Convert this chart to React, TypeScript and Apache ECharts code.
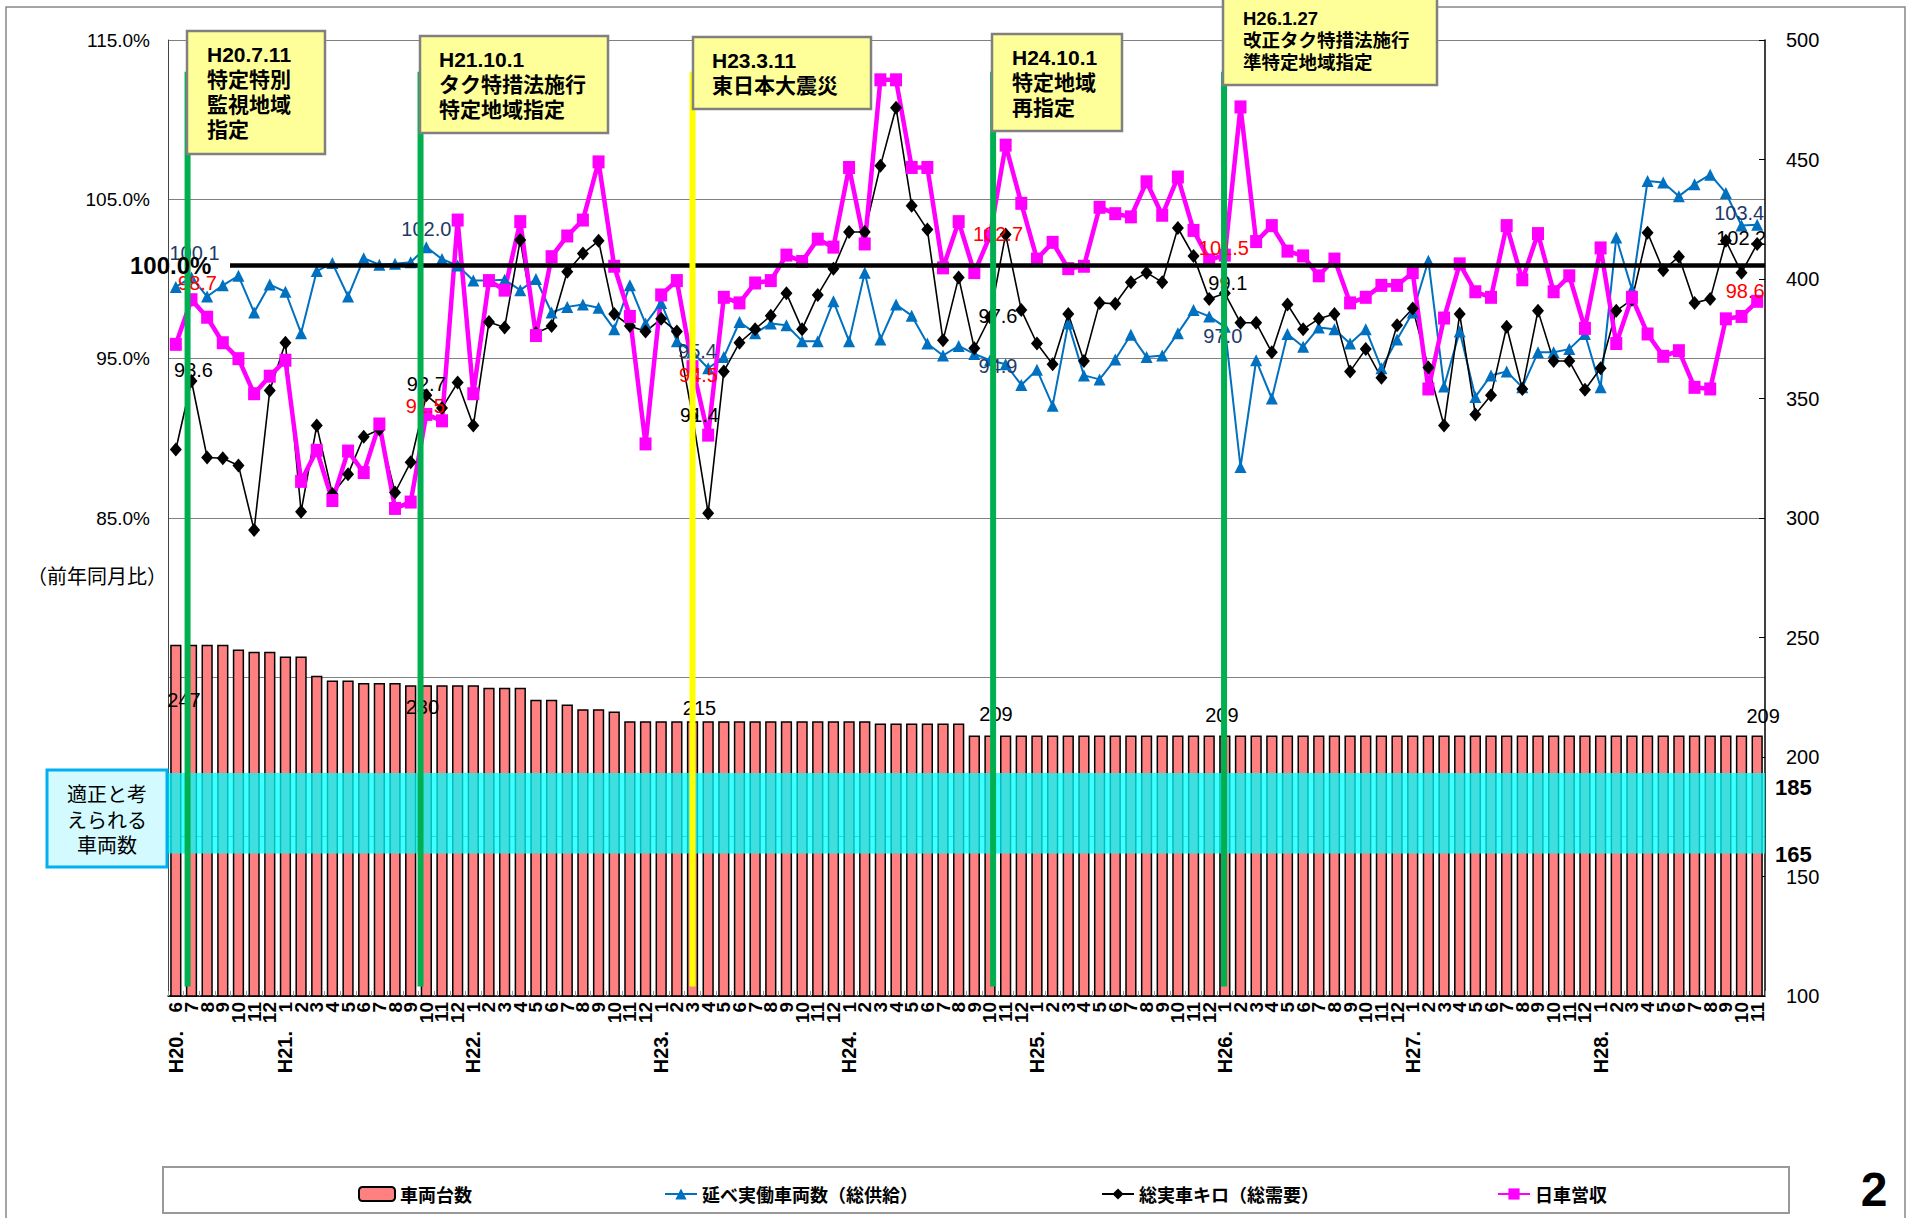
import React, { useEffect, useRef } from 'react';
import * as echarts from 'echarts';

// ---------- categories ----------
const YEAR_LABELS = ['H20', 'H21', 'H22', 'H23', 'H24', 'H25', 'H26', 'H27', 'H28'];
const YEAR_FIRST_MONTH = [6, 1, 1, 1, 1, 1, 1, 1, 1];
const YEAR_LAST_MONTH = [12, 12, 12, 12, 12, 12, 12, 12, 11];
const CATEGORIES: string[] = [];
YEAR_LABELS.forEach((y, i) => {
  for (let m = YEAR_FIRST_MONTH[i]; m <= YEAR_LAST_MONTH[i]; m++) CATEGORIES.push(`${y}.${m}`);
});

// ---------- series values ----------
const VEHICLES = [
  247, 247, 247, 247, 245, 244, 244,
  242, 242, 234, 232, 232, 231, 231, 231, 230, 230, 230, 230,
  230, 229, 229, 229, 224, 224, 222, 220, 220, 219, 215, 215,
  215, 215, 215, 215, 215, 215, 215, 215, 215, 215, 215, 215,
  215, 215, 214, 214, 214, 214, 214, 214, 209, 209, 209, 209,
  209, 209, 209, 209, 209, 209, 209, 209, 209, 209, 209, 209,
  209, 209, 209, 209, 209, 209, 209, 209, 209, 209, 209, 209,
  209, 209, 209, 209, 209, 209, 209, 209, 209, 209, 209, 209,
  209, 209, 209, 209, 209, 209, 209, 209, 209, 209, 209,
];
const SUPPLY = [
  99.5, 100.1, 98.9, 99.6, 100.2, 97.9, 99.65,
  99.2, 96.6, 100.5, 101.0, 98.9, 101.3, 100.9, 100.95, 101.05, 102.0, 101.25, 100.85,
  99.9, 99.9, 99.95, 99.3, 100.0, 97.9, 98.25, 98.4, 98.2, 96.85, 99.6, 97.2,
  98.5, 96.1, 95.4, 94.4, 95.1, 97.3, 96.6, 97.2, 97.1, 96.1, 96.1, 98.6,
  96.1, 100.4, 96.2, 98.4, 97.7, 95.95, 95.2, 95.8, 95.3, 94.9, 94.65, 93.35,
  94.3, 92.05, 97.2, 93.95, 93.7, 94.95, 96.5, 95.1, 95.2, 96.6, 98.05, 97.65,
  97.0, 88.2, 94.9, 92.5, 96.55, 95.75, 96.95, 96.85, 95.95, 96.85, 94.4, 96.2,
  97.9, 101.15, 93.25, 96.7, 92.6, 93.95, 94.2, 93.2, 95.4, 95.4, 95.6, 96.55,
  93.2, 102.6, 99.35, 106.15, 106.05, 105.2, 105.95, 106.55, 105.4, 103.35, 103.4,
];
const DEMAND = [
  89.3, 93.6, 88.8, 88.75, 88.3, 84.25, 93.0,
  96.0, 85.4, 90.8, 86.5, 87.75, 90.1, 90.55, 86.6, 88.5, 92.7, 91.9, 93.5,
  90.8, 97.3, 96.95, 102.45, 96.6, 97.05, 100.45, 101.6, 102.4, 97.8, 97.05, 96.7,
  97.5, 96.7, 91.4, 85.3, 94.2, 96.0, 96.85, 97.7, 99.1, 96.85, 99.0, 100.65,
  102.95, 102.95, 107.1, 110.75, 104.6, 103.1, 96.15, 100.1, 95.65, 97.6, 102.8, 98.05,
  95.95, 94.65, 97.8, 94.85, 98.5, 98.45, 99.8, 100.4, 99.8, 103.2, 101.45, 98.75,
  99.1, 97.25, 97.25, 95.4, 98.4, 96.85, 97.5, 97.8, 94.2, 95.6, 93.8, 97.1,
  98.15, 94.45, 90.8, 97.8, 91.5, 92.7, 97.0, 93.1, 98.0, 94.85, 94.85, 93.05,
  94.4, 98.0, 98.7, 102.9, 100.55, 101.4, 98.5, 98.75, 102.4, 100.4, 102.2,
];
const REVENUE = [
  95.9, 98.7, 97.6, 96.0, 95.0, 92.8, 93.9,
  94.9, 87.3, 89.25, 86.1, 89.2, 87.85, 90.9, 85.6, 86.0, 91.5, 91.1, 103.7,
  92.8, 99.9, 99.3, 103.6, 96.45, 101.4, 102.7, 103.7, 107.35, 100.8, 97.65, 89.65,
  99.0, 99.9, 94.5, 90.2, 98.85, 98.5, 99.75, 99.9, 101.5, 101.1, 102.5, 102.0,
  107.0, 102.2, 112.5, 112.5, 107.0, 107.0, 100.7, 103.6, 100.4, 102.7, 108.4, 104.75,
  101.25, 102.3, 100.65, 100.8, 104.5, 104.1, 103.9, 106.1, 104.0, 106.4, 103.05, 101.2,
  101.5, 110.8, 102.35, 103.35, 101.75, 101.45, 100.2, 101.25, 98.5, 98.85, 99.6, 99.6,
  100.4, 93.1, 97.55, 100.95, 99.2, 98.85, 103.35, 99.95, 102.85, 99.2, 100.2, 96.9,
  101.95, 95.95, 98.85, 96.55, 95.15, 95.5, 93.2, 93.1, 97.5, 97.65, 98.6,
];

const SERIES_NAMES = ['車両台数', '延べ実働車両数（総供給）', '総実車キロ（総需要）', '日車営収'];

// ---------- reference marks ----------
const EVENT_POS = [1.25, 16.13, 33.5, 52.7, 67.45]; // in month units along the axis
const EVENT_COLORS = ['#00B050', '#00B050', '#FFFF00', '#00B050', '#00B050'];
const EVENT_LINE_RANGE = [55.6, 113];
const REF_LEVEL = 100.85;
const REF_START = 3.96;
const BAND_RANGE = [159.6, 193.3];
const BAND_LABELS = [{ text: '185', at: 187.4 }, { text: '165', at: 159.3 }];

// ---------- fonts ----------
const FONT_NARROW = "'Liberation Sans Narrow', 'Arial Narrow', 'Liberation Sans', Arial, sans-serif";
const FONT_SANS = "'Liberation Sans', Arial, sans-serif";
const FONT_JP = "'Noto Sans CJK JP', sans-serif";
const FONT_BOX = "'Liberation Sans', 'Noto Sans CJK JP', sans-serif";

const BLUE_LABELS: Record<number, number[]> = { 1: [3, -24], 16: [0, -18], 33: [5, -1], 52: [8, 6], 67: [-2, 9], 101: [-18, -12] };
const BLACK_LABELS: Record<number, number[]> = { 1: [2, -11], 16: [0, -11], 33: [7, -1], 52: [8, -1], 67: [3, -10], 101: [-16, -6] };
const RED_LABELS: Record<number, number[]> = { 1: [6, -17], 16: [-1, -8], 33: [6, 8], 52: [8, -2], 67: [-1, -7], 101: [-12, -10] };
const BAR_LABELS: Record<number, number[]> = { 1: [-7.5, 70], 16: [-4, 37], 33: [7, 1.5], 52: [6, -6], 67: [-3, -5], 101: [6, -4] };

function lineData(vals: number[], labels: Record<number, number[]>, color: string) {
  return vals.map((v, i) => {
    const off = labels[i];
    if (!off) return v;
    return {
      value: v,
      label: {
        show: true, position: 'inside', offset: off, formatter: v.toFixed(1),
        color, fontSize: 20, fontFamily: FONT_SANS,
      },
    };
  });
}

function buildOption() {
  const barData = VEHICLES.map((v, i) => {
    const off = BAR_LABELS[i];
    if (!off) return v;
    return {
      value: v,
      label: { show: true, position: 'top', distance: 5, offset: off, formatter: String(v), color: '#000', fontSize: 20, fontFamily: FONT_NARROW },
    };
  });

  const boxes = [
    { x: 187, y: 31, w: 138, h: 123, tx: 207, ty: 41.5, lh: 25, fs: 21, text: 'H20.7.11\n特定特別\n監視地域\n指定' },
    { x: 420, y: 36, w: 188, h: 97, tx: 439, ty: 46.5, lh: 25, fs: 21, text: 'H21.10.1\nタク特措法施行\n特定地域指定' },
    { x: 693, y: 37, w: 178, h: 72, tx: 712, ty: 47.5, lh: 25, fs: 21, text: 'H23.3.11\n東日本大震災' },
    { x: 992, y: 34, w: 130, h: 97, tx: 1012, ty: 44.5, lh: 25, fs: 21, text: 'H24.10.1\n特定地域\n再指定' },
    { x: 1223, y: -6, w: 214, h: 91, tx: 1243, ty: 7, lh: 22, fs: 18.5, text: 'H26.1.27\n改正タク特措法施行\n準特定地域指定' },
  ];

  const graphics: any[] = [
    { type: 'rect', z: 0, shape: { x: 6, y: 7, width: 1899, height: 1240 }, style: { fill: 'none', stroke: '#888', lineWidth: 1.5 } },
    { type: 'rect', z: 0, shape: { x: 163, y: 1167, width: 1626, height: 46 }, style: { fill: 'none', stroke: '#999', lineWidth: 2 } },
    { type: 'text', z: 100, style: { x: 1874, y: 1213, text: '2', fill: '#000', fontSize: 48, fontWeight: 'bold', fontFamily: FONT_SANS, align: 'center', verticalAlign: 'bottom' } },
    { type: 'text', z: 100, style: { x: 27, y: 575, text: '（前年同月比）', fill: '#000', fontSize: 20, fontFamily: FONT_JP, align: 'left', verticalAlign: 'middle' } },
    { type: 'text', z: 100, style: { x: 130, y: 265, text: '100.0%', fill: '#000', fontSize: 24, fontWeight: 'bold', fontFamily: FONT_SANS, align: 'left', verticalAlign: 'middle' } },
    { type: 'rect', z: 100, shape: { x: 47, y: 770, width: 120, height: 97 }, style: { fill: '#D2FAFF', stroke: '#00B0F0', lineWidth: 3 } },
    { type: 'text', z: 101, style: { x: 107, y: 819, text: '適正と考\nえられる\n車両数', fill: '#000', fontSize: 20, lineHeight: 25.5, fontFamily: FONT_JP, align: 'center', verticalAlign: 'middle' } },
  ];
  boxes.forEach((b) => {
    graphics.push({ type: 'rect', z: 100, shape: { x: b.x, y: b.y, width: b.w, height: b.h }, style: { fill: '#FFFF99', stroke: '#808080', lineWidth: 2.5 } });
    graphics.push({ type: 'text', z: 101, style: { x: b.tx, y: b.ty, text: b.text, fill: '#000', fontSize: b.fs, lineHeight: b.lh, fontWeight: 'bold', fontFamily: FONT_BOX, align: 'left', verticalAlign: 'top' } });
  });

  const legendText = { fontSize: 18, fontWeight: 'bold', fontFamily: FONT_JP, color: '#000' };
  const legendLefts = [353, 659, 1096, 1492];
  const legends = SERIES_NAMES.map((n, i) => ({
    data: [n], left: legendLefts[i], top: 1180, itemWidth: i === 0 ? 36 : 32, itemHeight: 14, itemGap: 4,
    textStyle: legendText, selectedMode: false,
  }));

  return {
    animation: false,
    backgroundColor: '#fff',
    grid: { left: 168, right: 156, top: 40, bottom: 222, containLabel: false },
    legend: legends,
    graphic: graphics,
    xAxis: [
      {
        type: 'category', data: CATEGORIES, boundaryGap: true, position: 'bottom',
        axisLine: { show: true, lineStyle: { color: '#000', width: 1.5 } },
        axisTick: { show: true, inside: true, length: 5, lineStyle: { color: '#999' } },
        axisLabel: {
          interval: 0, rotate: 90, margin: 6, color: '#000', fontSize: 19, fontWeight: 'bold', fontFamily: FONT_SANS,
          formatter: (v: string) => v.split('.')[1],
        },
        splitLine: { show: false },
      },
      { type: 'value', min: 0, max: CATEGORIES.length, show: false },
      {
        type: 'category', data: CATEGORIES, boundaryGap: true, position: 'bottom',
        axisLine: { show: false }, axisTick: { show: false }, splitLine: { show: false },
        axisLabel: {
          interval: 0, rotate: 90, margin: 35, color: '#000', fontSize: 20, fontWeight: 'bold', fontFamily: FONT_SANS,
          formatter: (v: string, idx: number) => (idx === 0 || v.endsWith('.1') ? v.split('.')[0] + '.' : ''),
        },
      },
    ],
    yAxis: [
      {
        type: 'value', min: 55, max: 115, interval: 10, position: 'left',
        axisLine: { show: true, lineStyle: { color: '#444', width: 1 } },
        axisTick: { show: false },
        axisLabel: {
          margin: 18, color: '#000', fontSize: 19, fontFamily: FONT_NARROW,
          formatter: (v: number) => (v >= 85 ? v.toFixed(1) + '%' : ''),
        },
        splitLine: { show: true, lineStyle: { color: '#808080', width: 1 } },
      },
      {
        type: 'value', min: 100, max: 500, interval: 50, position: 'right',
        axisLine: { show: true, lineStyle: { color: '#000', width: 1.5 } },
        axisTick: { show: true, inside: true, length: 6, lineStyle: { color: '#000' } },
        axisLabel: { margin: 21, color: '#000', fontSize: 20, fontFamily: FONT_NARROW },
        splitLine: { show: false },
      },
    ],
    series: [
      {
        name: SERIES_NAMES[0], type: 'bar', xAxisIndex: 0, yAxisIndex: 1, data: barData, barWidth: '72%', z: 1,
        itemStyle: { color: '#FF8080', borderColor: '#000', borderWidth: 1.5 },
      },
      {
        type: 'custom', xAxisIndex: 1, yAxisIndex: 1, z: 2, silent: true, clip: false,
        data: [[0, BAND_RANGE[0]]],
        renderItem: (_p: any, api: any) => {
          const a = api.coord([0, BAND_RANGE[1]]);
          const b = api.coord([CATEGORIES.length, BAND_RANGE[0]]);
          const children: any[] = [
            { type: 'rect', shape: { x: a[0], y: a[1], width: b[0] - a[0], height: b[1] - a[1] }, style: { fill: 'rgba(0,255,255,0.75)' } },
          ];
          BAND_LABELS.forEach((l) => {
            const p = api.coord([CATEGORIES.length, l.at]);
            children.push({ type: 'text', style: { x: p[0] + 10, y: p[1], text: l.text, fill: '#000', fontSize: 22, fontWeight: 'bold', fontFamily: FONT_SANS, align: 'left', verticalAlign: 'middle' } });
          });
          return { type: 'group', children };
        },
      },
      {
        name: SERIES_NAMES[1], type: 'line', xAxisIndex: 0, yAxisIndex: 0, z: 3,
        data: lineData(SUPPLY, BLUE_LABELS, '#1F3A68'),
        symbol: 'triangle', symbolSize: [12, 12],
        lineStyle: { color: '#0070C0', width: 2 }, itemStyle: { color: '#0070C0' },
      },
      {
        name: SERIES_NAMES[2], type: 'line', xAxisIndex: 0, yAxisIndex: 0, z: 3,
        data: lineData(DEMAND, BLACK_LABELS, '#000'),
        symbol: 'diamond', symbolSize: [12, 14],
        lineStyle: { color: '#000', width: 1.6 }, itemStyle: { color: '#000' },
      },
      {
        name: SERIES_NAMES[3], type: 'line', xAxisIndex: 0, yAxisIndex: 0, z: 3,
        data: lineData(REVENUE, RED_LABELS, '#FF0000'),
        symbol: 'rect', symbolSize: [12, 13],
        lineStyle: { color: '#FF00FF', width: 4.5 }, itemStyle: { color: '#FF00FF' },
      },
      {
        type: 'custom', xAxisIndex: 1, yAxisIndex: 0, z: 4, silent: true, clip: false,
        data: [[REF_START, REF_LEVEL]],
        renderItem: (_p: any, api: any) => {
          const a = api.coord([api.value(0), api.value(1)]);
          const b = api.coord([CATEGORIES.length, api.value(1)]);
          return { type: 'line', shape: { x1: a[0], y1: a[1], x2: b[0], y2: b[1] }, style: { stroke: '#000', lineWidth: 4.5 } };
        },
      },
      {
        type: 'custom', xAxisIndex: 1, yAxisIndex: 0, z: 5, silent: true, clip: false,
        data: EVENT_POS.map((p) => [p, EVENT_LINE_RANGE[0]]),
        renderItem: (params: any, api: any) => {
          const x = api.value(0);
          const a = api.coord([x, EVENT_LINE_RANGE[0]]);
          const b = api.coord([x, EVENT_LINE_RANGE[1]]);
          return { type: 'line', shape: { x1: a[0], y1: a[1], x2: b[0], y2: b[1] }, style: { stroke: EVENT_COLORS[params.dataIndex], lineWidth: 6 } };
        },
      },
    ],
  };
}

export default function App() {
  const ref = useRef<HTMLDivElement>(null);
  useEffect(() => {
    const chart = echarts.init(ref.current as HTMLDivElement, null, { renderer: 'svg' });
    chart.setOption(buildOption() as any);
    return () => chart.dispose();
  }, []);
  return <div ref={ref} style={{ position: 'fixed', left: 0, top: 0, width: 1921, height: 1218, background: '#fff' }} />;
}
